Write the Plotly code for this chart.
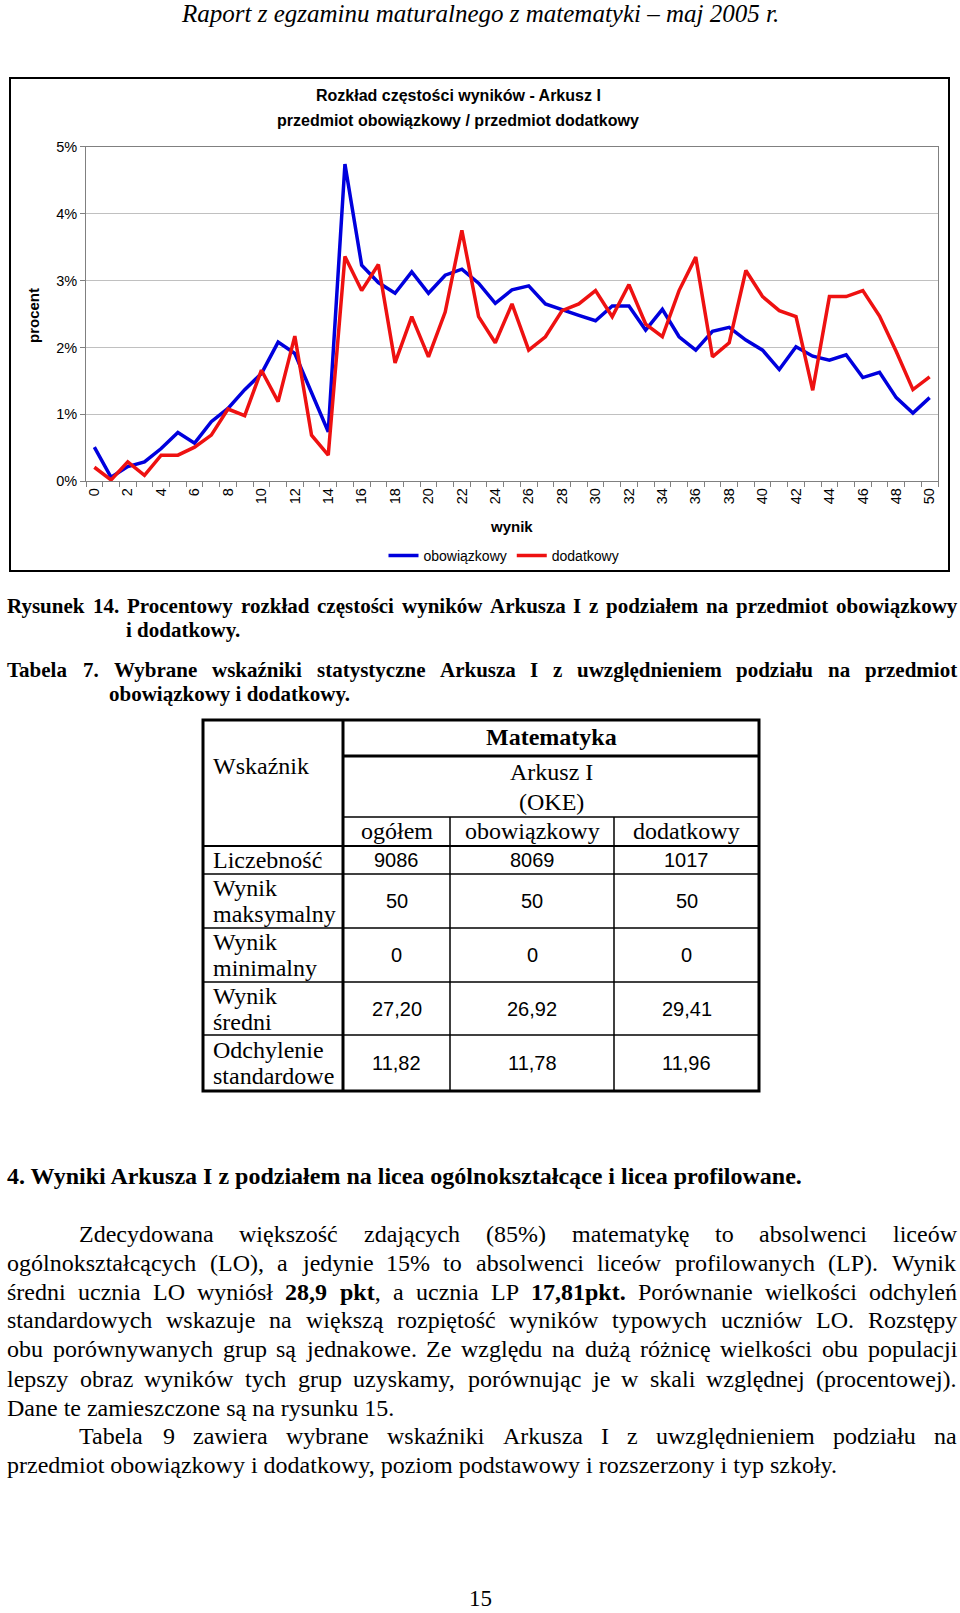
"""Page 15 of the 2005 maturity exam report: score distribution chart, table and text."""
import re
import unicodedata
import plotly.graph_objects as go

W, H = 960, 1613
SERIF = "Liberation Serif"
SANS = "Liberation Sans"

# chart data (percent of students per score)
scores = list(range(51))
obowiazkowy = [0.51, 0.06, 0.22, 0.29, 0.49, 0.73, 0.57, 0.89, 1.09, 1.37, 1.61, 2.08, 1.91,
               1.31, 0.74, 4.74, 3.23, 2.97, 2.81, 3.13, 2.81, 3.08, 3.17, 2.96, 2.66, 2.86,
               2.92, 2.65, 2.56, 2.48, 2.40, 2.62, 2.62, 2.26, 2.57, 2.16, 1.96, 2.24, 2.30,
               2.11, 1.96, 1.67, 2.01, 1.87, 1.81, 1.89, 1.55, 1.63, 1.25, 1.02, 1.25]
dodatkowy = [0.21, 0.02, 0.29, 0.09, 0.39, 0.39, 0.51, 0.69, 1.08, 0.98, 1.66, 1.19, 2.17,
             0.69, 0.39, 3.36, 2.85, 3.24, 1.77, 2.46, 1.86, 2.53, 3.75, 2.46, 2.07, 2.65,
             1.96, 2.16, 2.55, 2.65, 2.85, 2.46, 2.94, 2.35, 2.16, 2.85, 3.35, 1.86, 2.07,
             3.15, 2.76, 2.55, 2.46, 1.36, 2.76, 2.76, 2.85, 2.47, 1.94, 1.37, 1.56]
x_ticks = list(range(0, 51, 2))

# table data
table_cols = ["ogółem", "obowiązkowy", "dodatkowy"]
wskazniki = ["Liczebność", "Wynik maksymalny", "Wynik minimalny", "Wynik średni",
             "Odchylenie standardowe"]
ogolem_tab = ["9086", "50", "0", "27,20", "11,82"]
obowiazkowy_tab = ["8069", "50", "0", "26,92", "11,78"]
dodatkowy_tab = ["1017", "50", "0", "29,41", "11,96"]

caption_fig = ["Rysunek 14. Procentowy rozkład częstości wyników Arkusza I z podziałem na przedmiot obowiązkowy",
               "i dodatkowy."]
caption_tab = ["Tabela 7. Wybrane wskaźniki statystyczne Arkusza I z uwzględnieniem podziału na przedmiot",
               "obowiązkowy i dodatkowy."]
heading = "4. Wyniki Arkusza I z podziałem na licea ogólnokształcące i licea profilowane."
paragraph1 = [
    "Zdecydowana większość zdających (85%) matematykę to absolwenci liceów",
    "ogólnokształcących (LO), a jedynie 15% to absolwenci liceów profilowanych (LP). Wynik",
    "średni ucznia LO wyniósł <b>28,9</b> <b>pkt</b>, a ucznia LP <b>17,81pkt.</b> Porównanie wielkości odchyleń",
    "standardowych wskazuje na większą rozpiętość wyników typowych uczniów LO. Rozstępy",
    "obu porównywanych grup są jednakowe. Ze względu na dużą różnicę wielkości obu populacji",
    "lepszy obraz wyników tych grup uzyskamy, porównując je w skali względnej (procentowej).",
    "Dane te zamieszczone są na rysunku 15.",
]
paragraph2 = [
    "Tabela 9 zawiera wybrane wskaźniki Arkusza I z uwzględnieniem podziału na",
    "przedmiot obowiązkowy i dodatkowy, poziom podstawowy i rozszerzony i typ szkoły.",
]

# Times widths (1/1000 em), used to justify lines word by word
LOWER = "abcdefghijklmnopqrstuvwxyzł"
UPPER = "ABCDEFGHIJKLMNOPQRSTUVWXYZ"
PUNCT = {" ": 250, ".": 250, ",": 250, "(": 333, ")": 333, "%": 833, "-": 333, ":": 278}
TIMES = dict(zip(LOWER, [444, 500, 444, 500, 444, 333, 500, 500, 278, 278, 500, 278, 778, 500,
                         500, 500, 500, 333, 389, 278, 500, 500, 722, 500, 500, 444, 278]))
TIMES.update(zip(UPPER, [722, 667, 667, 722, 611, 556, 722, 722, 333, 389, 722, 611, 889, 722,
                         722, 556, 722, 667, 556, 611, 722, 722, 944, 722, 722, 611]))
TIMES.update(PUNCT)
TIMES_BOLD = dict(zip(LOWER, [500, 556, 444, 556, 444, 333, 500, 556, 278, 333, 556, 278, 833,
                              556, 500, 556, 556, 444, 389, 333, 556, 500, 722, 500, 500, 444,
                              278]))
TIMES_BOLD.update(zip(UPPER, [722, 667, 722, 722, 667, 611, 778, 778, 389, 500, 778, 667, 944,
                              722, 778, 611, 778, 722, 556, 667, 722, 722, 1000, 722, 722, 667]))
TIMES_BOLD.update(PUNCT)
TIMES_BOLD["%"] = 1000


def px(x):
    return x / W


def py(y):
    return 1 - y / H


annotations = []
shapes = []


def add_text(x, y, s, size, family=SERIF, xanchor="left", yanchor="middle", **kw):
    annotations.append(dict(x=px(x), y=py(y), xref="paper", yref="paper", text=s,
                            showarrow=False, xanchor=xanchor, yanchor=yanchor,
                            font=dict(family=family, size=size, color="black"), **kw))


def word_width(word, size, bold):
    plain = re.sub(r"<[^>]+>", "", word)
    table = TIMES_BOLD if bold else TIMES
    units = sum(table.get(unicodedata.normalize("NFD", ch)[0], 500) for ch in plain)
    return units * size / 1000


def justify(line, y, left, right, size, bold=False):
    words = line.split(" ")
    widths = [word_width(w, size, bold or "<b>" in w) for w in words]
    gap = (right - left - sum(widths)) / (len(words) - 1)
    x = left
    for w, ww in zip(words, widths):
        add_text(x, y, f"<b>{w}</b>" if bold else w, size)
        x += ww + gap


def add_line(x0, y0, x1, y1, width=1.5, color="black"):
    shapes.append(dict(type="line", xref="paper", yref="paper", x0=px(x0), y0=py(y0),
                       x1=px(x1), y1=py(y1), line=dict(color=color, width=width)))


fig = go.Figure()
fig.add_trace(go.Scatter(x=scores, y=obowiazkowy, mode="lines", name="obowiązkowy",
                         line=dict(color="#0000dd", width=3.5)))
fig.add_trace(go.Scatter(x=scores, y=dodatkowy, mode="lines", name="dodatkowy",
                         line=dict(color="#ee1111", width=3.5)))

# page header
add_text(480, 14, "<i>Raport z egzaminu maturalnego z matematyki – maj 2005 r.</i>", 25,
         xanchor="center")

# chart frame and labels
shapes.append(dict(type="rect", xref="paper", yref="paper", x0=px(10), y0=py(78),
                   x1=px(949), y1=py(571), line=dict(color="black", width=2)))
add_text(458, 96, "<b>Rozkład częstości wyników - Arkusz I</b>", 16, family=SANS, xanchor="center")
add_text(458, 121, "<b>przedmiot obowiązkowy / przedmiot dodatkowy</b>", 16, family=SANS,
         xanchor="center")
add_text(34, 316, "<b>procent</b>", 15, family=SANS, xanchor="center", textangle=-90)
add_text(511, 527, "<b>wynik</b>", 15, family=SANS, xanchor="center")

# captions
justify(caption_fig[0], 606, 5, 955, 21, bold=True)
add_text(124, 630, f"<b>{caption_fig[1]}</b>", 21)
justify(caption_tab[0], 670, 5, 955, 21, bold=True)
add_text(107, 694, f"<b>{caption_tab[1]}</b>", 21)

# table grid
cols_x = [203, 343, 450, 614, 759]
rows_y = [720, 756, 817, 846, 874, 928, 982, 1035, 1091]
shapes.append(dict(type="rect", xref="paper", yref="paper", x0=px(cols_x[0]), y0=py(rows_y[0]),
                   x1=px(cols_x[-1]), y1=py(rows_y[-1]), line=dict(color="black", width=3)))
add_line(cols_x[1], rows_y[0], cols_x[1], rows_y[-1], width=3)
for cx in cols_x[2:4]:
    add_line(cx, rows_y[2], cx, rows_y[-1])
add_line(cols_x[1], rows_y[1], cols_x[-1], rows_y[1], width=3)
add_line(cols_x[1], rows_y[2], cols_x[-1], rows_y[2])
add_line(cols_x[0], rows_y[3], cols_x[-1], rows_y[3], width=2)
for ry in rows_y[4:8]:
    add_line(cols_x[0], ry, cols_x[-1], ry)

centers = [(cols_x[i] + cols_x[i + 1]) / 2 for i in range(1, 4)]
add_text(211, 766, "Wskaźnik", 24)
add_text(551, 737, "<b>Matematyka</b>", 24, xanchor="center")
add_text(551, 772, "Arkusz I", 24, xanchor="center")
add_text(551, 802, "(OKE)", 24, xanchor="center")
for cx, name in zip(centers, table_cols):
    add_text(cx, 831, name, 24, xanchor="center")
for i, label in enumerate(wskazniki):
    top, bottom = rows_y[3 + i], rows_y[4 + i]
    mid = (top + bottom) / 2
    parts = label.split(" ")
    if len(parts) == 1:
        add_text(211, mid, label, 24)
    else:
        add_text(211, mid - 13, parts[0], 24)
        add_text(211, mid + 13, parts[1], 24)
    for cx, vals in zip(centers, [ogolem_tab, obowiazkowy_tab, dodatkowy_tab]):
        add_text(cx, mid, vals[i], 20, family=SANS, xanchor="center")

# body text
add_text(5, 1176, f"<b>{heading}</b>", 24)
body_y = [1234, 1263, 1292, 1320, 1349, 1379, 1408]
for i, (line, y) in enumerate(zip(paragraph1, body_y)):
    left = 77 if i == 0 else 5
    if i == len(paragraph1) - 1:
        add_text(left, y, line, 24)
    else:
        justify(line, y, left, 955, 24)
justify(paragraph2[0], 1436, 77, 955, 24)
add_text(5, 1465, paragraph2[1], 24)
# page number, anchored on the bottom edge so it is not clipped
add_text(480, 1612, "15", 23, xanchor="center", yanchor="bottom", borderpad=0)

axis_font = dict(family=SANS, size=14.5, color="black")
fig.update_layout(
    width=W, height=H,
    margin=dict(l=0, r=0, t=0, b=0, autoexpand=False),
    paper_bgcolor="white", plot_bgcolor="white",
    annotations=annotations, shapes=shapes,
    legend=dict(orientation="h", x=px(504), xanchor="center", y=py(556), yanchor="middle",
                font=dict(family=SANS, size=14, color="black"), bgcolor="rgba(0,0,0,0)"),
    xaxis=dict(domain=[px(86), px(938)], range=[-0.5, 50.5], tickmode="array",
               tickvals=x_ticks, ticktext=[str(v) for v in x_ticks], tickangle=-90,
               ticks="", showgrid=False, zeroline=False, showline=True, linecolor="#808080",
               mirror=True, tickfont=axis_font, automargin=False,
               minor=dict(ticks="outside", ticklen=5, tickcolor="#808080", tickmode="linear",
                          tick0=-0.5, dtick=1, showgrid=False)),
    yaxis=dict(domain=[py(481.3), py(146.7)], range=[0, 5], dtick=1, ticksuffix="%",
               showgrid=True, gridcolor="#c0c0c0", zeroline=False, showline=True,
               linecolor="#808080", mirror=True, ticks="outside", ticklen=5,
               tickcolor="#808080", tickfont=axis_font, automargin=False),
)

# drop the default page margin so the figure fills the window exactly
fig.write_html("out.html", config={"displayModeBar": False},
               post_script="document.body.style.margin='0';document.body.style.overflow='hidden';")
